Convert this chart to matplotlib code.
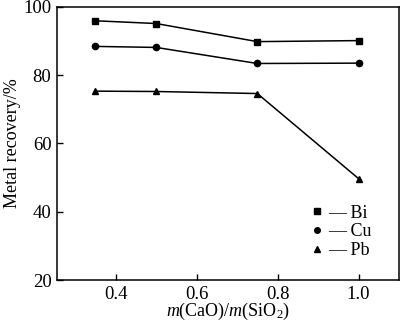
import matplotlib
matplotlib.use('Agg')
import matplotlib.pyplot as plt
from matplotlib.lines import Line2D

plt.rcParams['font.family'] = ['Liberation Serif', 'DejaVu Serif']
plt.rcParams['mathtext.fontset'] = 'custom'
plt.rcParams['mathtext.it'] = 'Liberation Serif:italic'
plt.rcParams['mathtext.rm'] = 'Liberation Serif'

# ratio m(CaO)/m(SiO2)
ratio = [0.35, 0.5, 0.75, 1.0]
bi = [95.9, 95.1, 89.8, 90.1]
cu = [88.4, 88.1, 83.4, 83.5]
pb = [75.3, 75.2, 74.6, 49.7]

fig = plt.figure(figsize=(4.0, 3.23), dpi=100)
ax = fig.add_axes([0.1425, 0.133, 0.855, 0.846])

ax.plot(ratio, bi, color='black', marker='s', markersize=4.5, linewidth=1.1)
ax.plot(ratio, cu, color='black', marker='o', markersize=4.5, linewidth=1.1)
ax.plot(ratio, pb, color='black', marker='^', markersize=4.5, linewidth=1.1)

ax.set_xlim(0.255, 1.1)
ax.set_ylim(20, 100)
ax.set_xticks([0.4, 0.6, 0.8, 1.0])
ax.set_xticklabels(['0.4', '0.6', '0.8', '1.0'])
ax.set_yticks([20, 40, 60, 80, 100])
ax.tick_params(direction='in', length=4, width=1, labelsize=13.5, pad=4)
for s in ax.spines.values():
    s.set_linewidth(1.1)

ax.set_xlabel(r'$m$(CaO)/$m$(SiO$_2$)', fontsize=13, labelpad=-1)
ax.set_ylabel('Metal recovery/%', fontsize=13, labelpad=2)

handles = [Line2D([], [], color='black', marker=m, linestyle='none', markersize=4)
           for m in ['s', 'o', '^']]
ax.legend(handles, ['\u2014 Bi', '\u2014 Cu', '\u2014 Pb'], loc='lower right',
          bbox_to_anchor=(0.94, 0.05), frameon=False, fontsize=13,
          handlelength=0.6, handletextpad=0.3, labelspacing=0.1,
          borderaxespad=0)

fig.savefig('out.png', dpi=100)
